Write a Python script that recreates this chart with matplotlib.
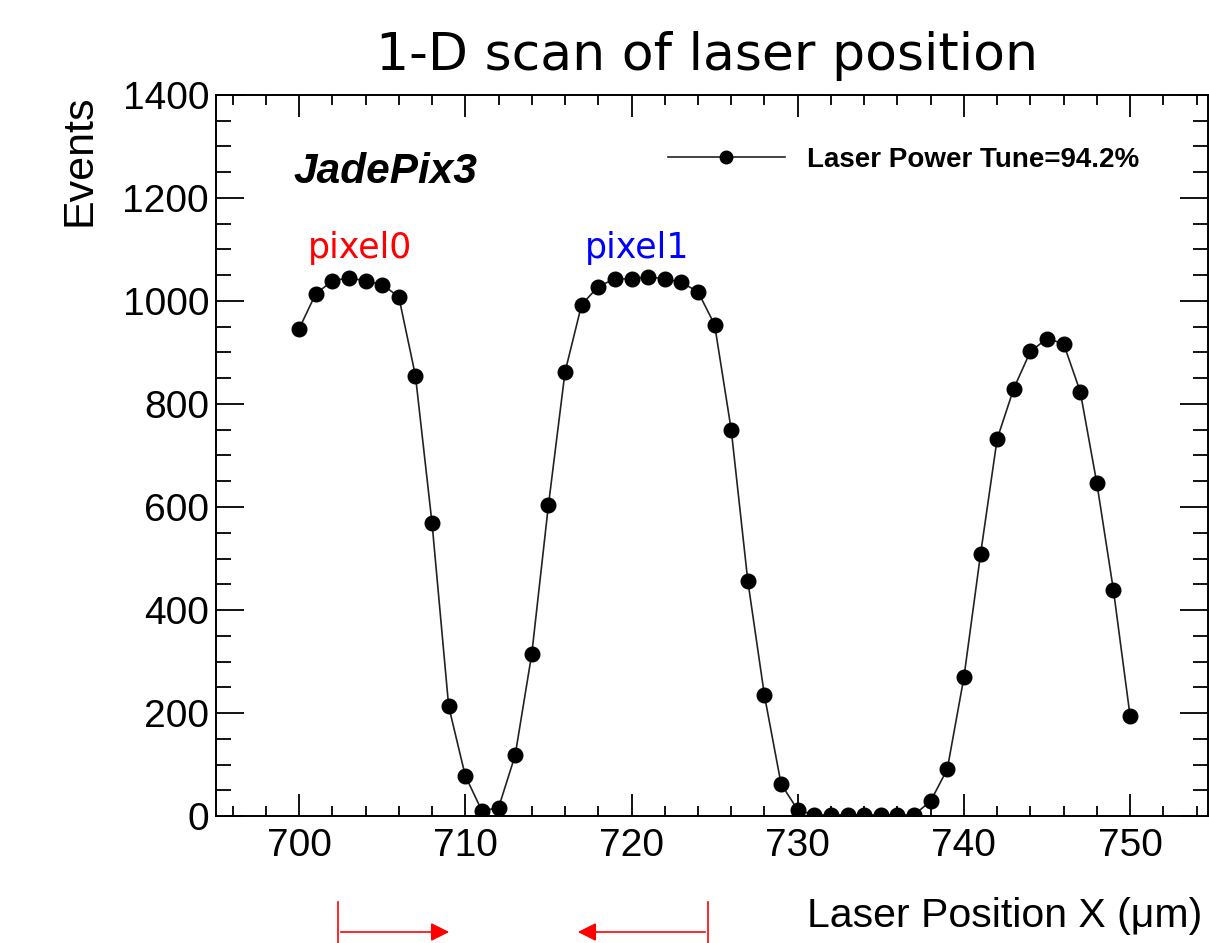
import matplotlib
matplotlib.use("Agg")
import matplotlib.pyplot as plt
from matplotlib.lines import Line2D
from matplotlib.ticker import MultipleLocator

plt.rcParams['font.family'] = ['Liberation Sans', 'DejaVu Sans']

# laser scan data
positions = list(range(700, 751))
events = [946, 1014, 1039, 1045, 1039, 1032, 1008, 855, 568, 213,
          78, 10, 16, 118, 315, 603, 862, 993, 1028, 1043,
          1043, 1047, 1043, 1036, 1018, 954, 750, 456, 234, 62,
          12, 2, 2, 2, 2, 2, 2, 2, 29, 91,
          269, 508, 732, 830, 902, 927, 917, 824, 646, 438,
          194]
series_label = "Laser Power Tune=94.2%"
y_ticks = [0, 200, 400, 600, 800, 1000, 1200, 1400]
x_ticks = [700, 710, 720, 730, 740, 750]

W, H = 1209, 943
fig = plt.figure(figsize=(W / 100, H / 100), dpi=100)
ax = fig.add_axes([216 / W, 1 - 816 / H, 992 / W, 721 / H])

ax.plot(positions, events, color='#222222', lw=1.2, marker='o',
        markersize=10.5, markerfacecolor='black', markeredgecolor='black',
        label=series_label)

ax.set_xlim(695, 695 + 992 / 16.62)
ax.set_ylim(0, 1400)
ax.set_xticks(x_ticks)
ax.set_yticks(y_ticks)
ax.xaxis.set_minor_locator(MultipleLocator(2))
ax.yaxis.set_minor_locator(MultipleLocator(50))

for s in ax.spines.values():
    s.set_linewidth(1.4)
ax.tick_params(which='both', direction='in', top=True, right=True, width=1.3)
ax.tick_params(axis='x', which='major', length=16, pad=9, labelsize=28)
ax.tick_params(axis='x', which='minor', length=7.5)
ax.tick_params(axis='y', which='major', length=20, pad=5, labelsize=28)
ax.tick_params(axis='y', which='minor', length=11)

# texts
fig.text(707 / W, 1 - 56 / H, "1-D scan of laser position", family='DejaVu Sans',
         fontsize=37.5, ha='center', va='center')
fig.text(80 / W, 1 - 94 / H, "Events", fontsize=31, rotation=90, ha='center', va='top')
fig.text(807 / W, 1 - 916 / H, "Laser Position X (\u03bcm)", fontsize=29.5, ha='left', va='center')
ax.text((293 - 216) / 992, (816 - 172) / 721, "JadePix3", transform=ax.transAxes,
        fontsize=30.5, fontweight='bold', fontstyle='italic', ha='left', va='center')
ax.text((360 - 216) / 992, (816 - 248) / 721, "pixel0", transform=ax.transAxes,
        family='DejaVu Sans', fontsize=25, color='red', ha='center', va='center')
ax.text((637 - 216) / 992, (816 - 248) / 721, "pixel1", transform=ax.transAxes,
        family='DejaVu Sans', fontsize=25, color='blue', ha='center', va='center')

leg = ax.legend(loc='center left', bbox_to_anchor=((668 - 216) / 992, (816 - 160) / 721),
                frameon=False, borderpad=0, borderaxespad=0, handlelength=4.2,
                handletextpad=0.8, numpoints=1,
                prop={'family': 'Liberation Sans', 'weight': 'bold', 'size': 20})
for h in leg.legend_handles:
    h.set_markersize(9)

# red arrows under the axis
ya = 1 - 932 / H
for xb in (338, 708):
    fig.add_artist(Line2D([xb / W, xb / W], [1 - 902 / H, 0], color='red', lw=1.2))
ax.annotate("", xy=(452 / W, ya), xytext=(338 / W, ya), xycoords='figure fraction',
            arrowprops=dict(arrowstyle='-|>', color='red', lw=1.2, mutation_scale=28))
ax.annotate("", xy=(575 / W, ya), xytext=(708 / W, ya), xycoords='figure fraction',
            arrowprops=dict(arrowstyle='-|>', color='red', lw=1.2, mutation_scale=28))

fig.savefig("out.png", dpi=100)
